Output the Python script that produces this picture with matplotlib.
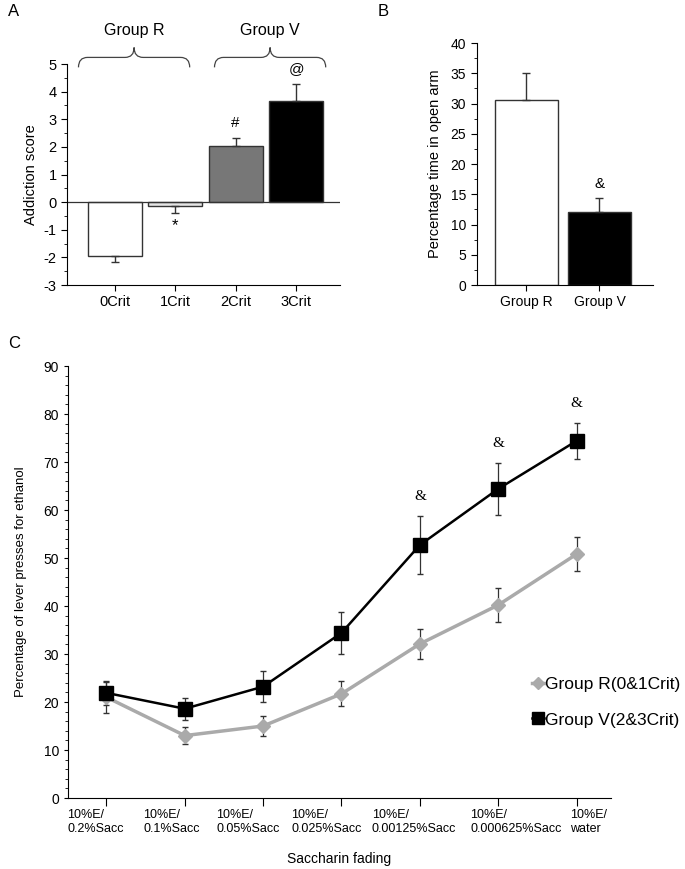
import numpy as np
import matplotlib.pyplot as plt
from matplotlib.path import Path
from matplotlib.patches import PathPatch
from matplotlib.ticker import MultipleLocator
from matplotlib.lines import Line2D

plt.rcParams['font.family'] = ['Liberation Sans', 'DejaVu Sans']
plt.rcParams['axes.unicode_minus'] = False

# panel A: addiction score by number of criteria
crit_labels = ['0Crit', '1Crit', '2Crit', '3Crit']
crit_score = [-1.95, -0.13, 2.02, 3.68]
crit_sem = [0.23, 0.28, 0.30, 0.60]
crit_colors = ['white', '#e4e4e4', '#777777', 'black']
crit_marks = ['', '*', '#', '@']

# panel B: elevated plus maze
group_labels = ['Group R', 'Group V']
open_arm = [30.6, 12.0]
open_arm_sem = [4.4, 2.4]
open_arm_colors = ['white', 'black']

# panel C: saccharin fading
fading_labels = ['10%E/\n0.2%Sacc', '10%E/\n0.1%Sacc', '10%E/\n0.05%Sacc',
                 '10%E/\n0.025%Sacc', '10%E/\n0.00125%Sacc',
                 '10%E/\n0.000625%Sacc', '10%E/\nwater']
grp_r = [21.0, 13.0, 15.0, 21.7, 32.1, 40.2, 50.8]
grp_r_sem = [3.2, 1.8, 2.0, 2.6, 3.2, 3.6, 3.6]
grp_v = [21.9, 18.6, 23.2, 34.4, 52.7, 64.4, 74.4]
grp_v_sem = [2.5, 2.3, 3.3, 4.3, 6.0, 5.4, 3.7]
sig_v = [False, False, False, False, True, True, True]

fig = plt.figure(figsize=(6.85, 8.69), dpi=100)


def style(ax):
    for s in ['top', 'right']:
        ax.spines[s].set_visible(False)
    for s in ['left', 'bottom']:
        ax.spines[s].set_linewidth(0.8)
    ax.tick_params(direction='out', width=0.8)
    ax.tick_params(which='minor', direction='out', width=0.6, length=2)


def brace(ax, x0, x1, y0, h, d):
    xm = (x0 + x1) / 2
    ym = y0 + h / 2
    verts = [(x0, y0), (x0, ym), (x0 + d, ym), (xm - d, ym), (xm, ym), (xm, y0 + h),
             (xm, ym), (xm + d, ym), (x1 - d, ym), (x1, ym), (x1, y0)]
    codes = [Path.MOVETO, Path.CURVE3, Path.CURVE3, Path.LINETO, Path.CURVE3, Path.CURVE3,
             Path.CURVE3, Path.CURVE3, Path.LINETO, Path.CURVE3, Path.CURVE3]
    ax.add_patch(PathPatch(Path(verts, codes), fc='none', ec='#444444', lw=0.9, clip_on=False))


# ---- A ----
axA = fig.add_axes([0.0978, 0.672, 0.398, 0.2543])
style(axA)
xa = np.arange(len(crit_labels))
lo = [s if v < 0 else 0 for v, s in zip(crit_score, crit_sem)]
hi = [s if v >= 0 else 0 for v, s in zip(crit_score, crit_sem)]
axA.bar(xa, crit_score, width=0.89, color=crit_colors, edgecolor='#333333', linewidth=1.0)
axA.errorbar(xa, crit_score, yerr=[lo, hi], fmt='none', ecolor='#333333', elinewidth=1, capsize=3)
axA.axhline(0, color='#333333', lw=0.9)
axA.set_xlim(-0.79, 3.72)
axA.set_ylim(-3, 5)
axA.set_yticks(range(-3, 6))
axA.yaxis.set_minor_locator(MultipleLocator(0.5))
axA.set_xticks(xa)
axA.set_xticklabels(crit_labels)
axA.tick_params(labelsize=10.5, length=4)
axA.set_ylabel('Addiction score', fontsize=10.5, labelpad=4)
for x, v, s, m in zip(xa, crit_score, crit_sem, crit_marks):
    if m:
        if v < 0:
            axA.annotate(m, (x, v - s), xytext=(0, -9), textcoords='offset points',
                         ha='center', va='center', fontsize=12)
        else:
            axA.annotate(m, (x, v + s), xytext=(0, 11), textcoords='offset points',
                         ha='center', va='center', fontsize=11)
brace(axA, xa[0] - 0.6, xa[1] + 0.24, 4.88, 0.72, 0.15)
brace(axA, xa[2] - 0.35, xa[3] + 0.49, 4.88, 0.72, 0.15)
axA.text((xa[0] + xa[1]) / 2 - 0.18, 6.2, 'Group R', ha='center', va='center', fontsize=11.5)
axA.text((xa[2] + xa[3]) / 2 + 0.07, 6.2, 'Group V', ha='center', va='center', fontsize=11.5)
fig.text(8 / 685, 1 - 12 / 869, 'A', fontsize=12, va='center')

# ---- B ----
axB = fig.add_axes([0.696, 0.672, 0.257, 0.2785])
style(axB)
xb = np.arange(len(group_labels))
axB.bar(xb, open_arm, width=0.86, color=open_arm_colors, edgecolor='#333333', linewidth=1.0)
axB.errorbar(xb, open_arm, yerr=[[0, 0], open_arm_sem], fmt='none', ecolor='#333333',
             elinewidth=1, capsize=3)
axB.set_xlim(-0.68, 1.73)
axB.set_ylim(0, 40)
axB.set_yticks(range(0, 41, 5))
axB.yaxis.set_minor_locator(MultipleLocator(2.5))
axB.set_xticks(xb)
axB.set_xticklabels(group_labels, family=['Liberation Sans Narrow', 'Liberation Sans'])
axB.tick_params(labelsize=10, length=4)
axB.set_ylabel('Percentage time in open arm', fontsize=10.5, labelpad=6)
axB.annotate('&', (xb[1], open_arm[1] + open_arm_sem[1]), xytext=(0, 10),
             textcoords='offset points', ha='center', va='center', fontsize=11)
fig.text(378 / 685, 1 - 12 / 869, 'B', fontsize=12, va='center')

# ---- C ----
axC = fig.add_axes([0.0993, 0.0817, 0.7927, 0.4971])
style(axC)
xc = np.arange(len(fading_labels))
axC.errorbar(xc, grp_r, yerr=grp_r_sem, color='#aaaaaa', lw=2.5, marker='D', ms=7,
             mec='#aaaaaa', ecolor='#333333', elinewidth=0.9, capsize=2.5,
             label='Group R(0&1Crit)')
axC.errorbar(xc, grp_v, yerr=grp_v_sem, color='black', lw=1.8, marker='s', ms=10,
             ecolor='#333333', elinewidth=0.9, capsize=2.5, label='Group V(2&3Crit)')
for x, v, s, sig in zip(xc, grp_v, grp_v_sem, sig_v):
    if sig:
        axC.annotate('&', (x, v + s), xytext=(0, 14), textcoords='offset points',
                     ha='center', va='center', fontsize=11,
                     family=['Liberation Serif', 'DejaVu Serif'])
axC.set_xlim(-0.49, 6.44)
axC.set_ylim(0, 90)
axC.set_yticks(range(0, 91, 10))
axC.yaxis.set_minor_locator(MultipleLocator(2))
axC.set_xticks(xc)
axC.set_xticklabels([])
# the original labels sit a little off their ticks (offsets in pixels)
shifts = [-11, -13, -15, -15, -6, 18, 12]
for x, lab, dx in zip(xc, fading_labels, shifts):
    axC.annotate(lab, (x, 0), xycoords=axC.get_xaxis_transform(),
                 xytext=(dx * 0.72, -8), textcoords='offset points',
                 ha='center', va='top', fontsize=9, multialignment='left')
axC.tick_params(axis='x', length=6, pad=3)
axC.tick_params(axis='y', labelsize=10, length=3)
axC.set_xlabel('Saccharin fading', fontsize=10)
axC.xaxis.set_label_coords(0.5, -0.125)
axC.set_ylabel('Percentage of lever presses for ethanol', fontsize=9.5, labelpad=12)
h = [Line2D([], [], color='#aaaaaa', lw=2.5, marker='D', ms=6),
     Line2D([], [], color='black', lw=1.8, marker='s', ms=9)]
fig.legend(h, ['Group R(0&1Crit)', 'Group V(2&3Crit)'], loc='center left',
           bbox_to_anchor=(532 / 685, 1 - 702 / 869), frameon=False, fontsize=12.5,
           handlelength=0.7, handletextpad=0.05, labelspacing=1.2, borderpad=0,
           borderaxespad=0)
fig.text(8 / 685, 1 - 343 / 869, 'C', fontsize=12, va='center')

fig.savefig('out.png', dpi=100)
